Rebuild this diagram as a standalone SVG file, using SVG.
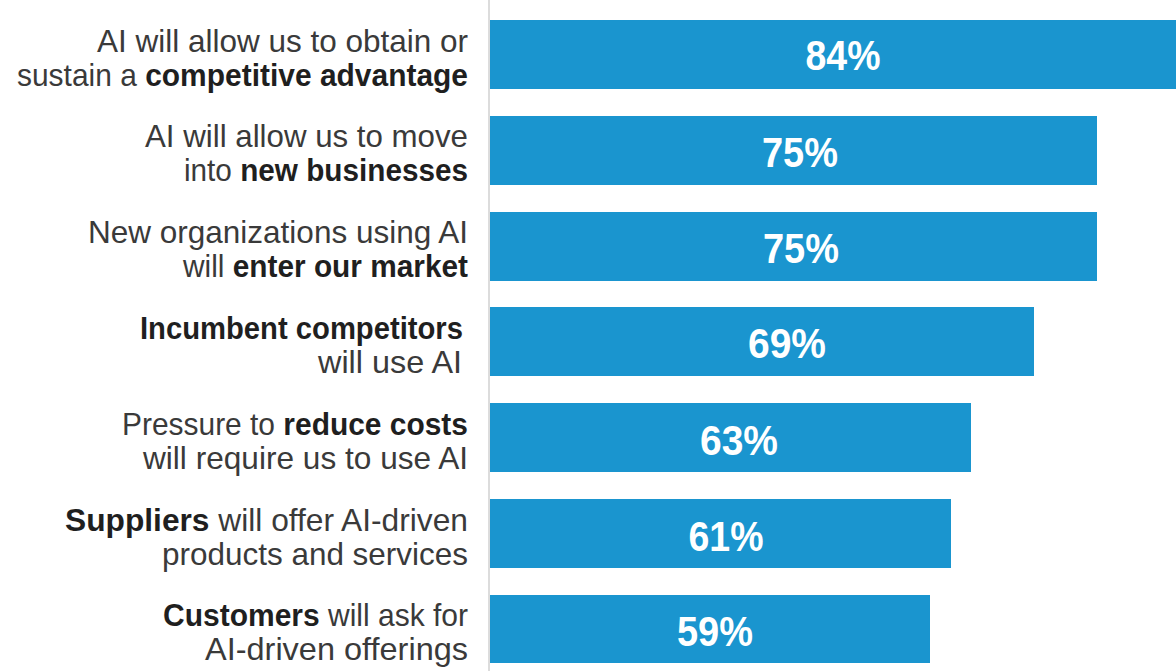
<svg xmlns="http://www.w3.org/2000/svg" width="1176" height="671" viewBox="0 0 1176 671">
<style>
.lbl{font-family:"Liberation Sans",Arial,sans-serif;font-size:31.5px;fill:#3a3a3a;text-anchor:end}
.b{font-weight:bold;fill:#1f1f1f}
.bar{fill:#1a95cf}
.pct{font-family:"Liberation Sans",Arial,sans-serif;font-size:43px;font-weight:bold;fill:#ffffff;text-anchor:middle}
.axis{stroke:#dcdcdc;stroke-width:2}
</style>
<rect width="1176" height="671" fill="#ffffff"/>
<g id="axis"><line class="axis" x1="489" y1="0" x2="489" y2="671"/></g>
<g id="bar1">
<rect class="bar" x="490" y="20" width="700" height="69"/>
<text class="pct" x="843" y="70" textLength="75" lengthAdjust="spacingAndGlyphs">84%</text>
<text class="lbl" x="468" y="51.5" textLength="371" lengthAdjust="spacingAndGlyphs">AI will allow us to obtain or</text>
<text class="lbl" x="468" y="85.5" textLength="451" lengthAdjust="spacingAndGlyphs">sustain a <tspan class="b">competitive advantage</tspan></text>
</g>
<g id="bar2">
<rect class="bar" x="490" y="116" width="607" height="69"/>
<text class="pct" x="800" y="167" textLength="76" lengthAdjust="spacingAndGlyphs">75%</text>
<text class="lbl" x="468" y="147" textLength="323" lengthAdjust="spacingAndGlyphs">AI will allow us to move</text>
<text class="lbl" x="468" y="181" textLength="284" lengthAdjust="spacingAndGlyphs">into <tspan class="b">new businesses</tspan></text>
</g>
<g id="bar3">
<rect class="bar" x="490" y="212" width="607" height="69"/>
<text class="pct" x="801" y="263" textLength="76" lengthAdjust="spacingAndGlyphs">75%</text>
<text class="lbl" x="468" y="243" textLength="380" lengthAdjust="spacingAndGlyphs">New organizations using AI</text>
<text class="lbl" x="468" y="277" textLength="285" lengthAdjust="spacingAndGlyphs">will <tspan class="b">enter our market</tspan></text>
</g>
<g id="bar4">
<rect class="bar" x="490" y="307" width="544" height="69"/>
<text class="pct" x="787" y="358" textLength="78" lengthAdjust="spacingAndGlyphs">69%</text>
<text class="lbl b" x="463" y="338.5" textLength="323" lengthAdjust="spacingAndGlyphs">Incumbent competitors</text>
<text class="lbl" x="462" y="372.5" textLength="144" lengthAdjust="spacingAndGlyphs">will use AI</text>
</g>
<g id="bar5">
<rect class="bar" x="490" y="403" width="481" height="69"/>
<text class="pct" x="739" y="455" textLength="78" lengthAdjust="spacingAndGlyphs">63%</text>
<text class="lbl" x="468" y="434.5" textLength="346" lengthAdjust="spacingAndGlyphs">Pressure to <tspan class="b">reduce costs</tspan></text>
<text class="lbl" x="468" y="468.5" textLength="325" lengthAdjust="spacingAndGlyphs">will require us to use AI</text>
</g>
<g id="bar6">
<rect class="bar" x="490" y="499" width="461" height="69"/>
<text class="pct" x="726" y="551" textLength="75" lengthAdjust="spacingAndGlyphs">61%</text>
<text class="lbl" x="468" y="530.5" textLength="403" lengthAdjust="spacingAndGlyphs"><tspan class="b">Suppliers</tspan> will offer AI-driven</text>
<text class="lbl" x="468" y="564.5" textLength="306" lengthAdjust="spacingAndGlyphs">products and services</text>
</g>
<g id="bar7">
<rect class="bar" x="490" y="595" width="440" height="68"/>
<text class="pct" x="715" y="646" textLength="76" lengthAdjust="spacingAndGlyphs">59%</text>
<text class="lbl" x="468" y="626" textLength="305" lengthAdjust="spacingAndGlyphs"><tspan class="b">Customers</tspan> will ask for</text>
<text class="lbl" x="468" y="660" textLength="263" lengthAdjust="spacingAndGlyphs">AI-driven offerings</text>
</g>
</svg>
